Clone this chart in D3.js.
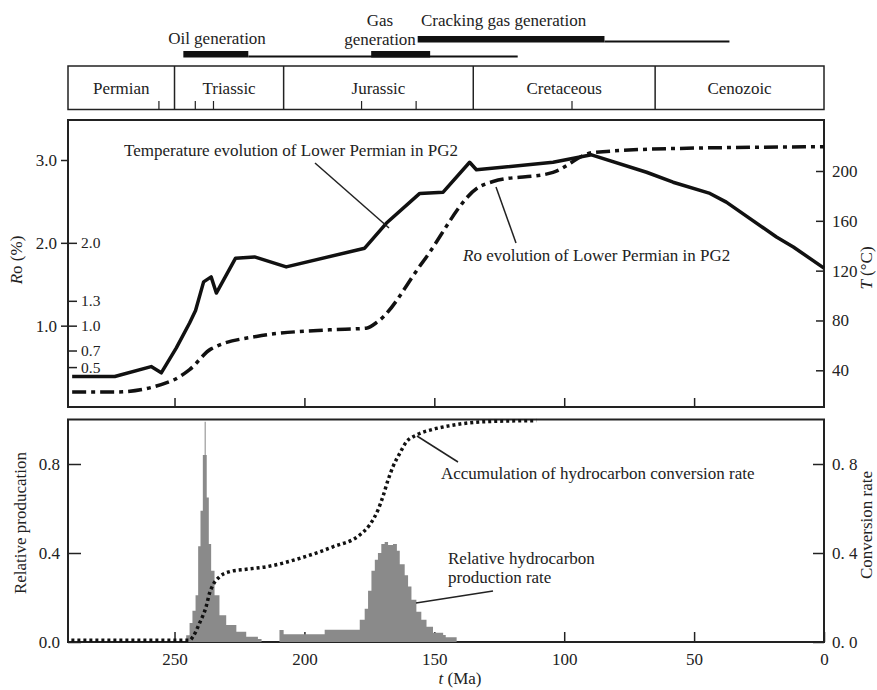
<!DOCTYPE html>
<html>
<head>
<meta charset="utf-8">
<script src="https://cdn.jsdelivr.net/npm/d3@7"></script>
<style>
  body { margin: 0; background: #fff; }
  text { font-family: "Liberation Serif", "Times New Roman", serif; fill: #222; }
</style>
</head>
<body>
<script>
// Geological periods (Ma).
const periodNames = ["Permian", "Triassic", "Jurassic", "Cretaceous", "Cenozoic"];
const periodBounds = [291, 250, 208, 135, 65, 0];
const stageTicks = [256, 242, 235, 178, 157, 97];

// Generation windows (Ma): thick bars and thin tails, row 0 = top row.
const genBarStart = [246.6, 174.3, 156.4];
const genBarEnd = [221.6, 151.6, 84.5];
const genBarRow = [1, 1, 0];
const genTailStart = [221.6, 84.5];
const genTailEnd = [117.9, 36.4];
const genTailRow = [1, 0];

// Temperature history of Lower Permian in PG2 (°C).
const tempAge = [289.4, 273.0, 259.0, 255.1, 249.3, 244.2, 241.9, 238.8, 235.9, 233.9, 226.5, 219.2, 207.0, 176.8, 168.5, 155.6, 146.6, 136.4, 133.8, 104.3, 89.5, 68.3, 58.1, 43.9, 37.6, 18.3, 11.8, 0];
const tempValue = [35, 35, 43, 38, 58, 78, 88, 111, 115, 102, 130, 131, 123, 138, 158, 182, 183, 207, 201, 207, 213, 199, 191, 182, 175, 147, 139, 122];

// Ro history of Lower Permian in PG2 (%).
const roAge = [289.4, 272.5, 250.7, 244.2, 235.9, 218.5, 190.3, 176.2, 171.7, 154.4, 132.5, 127.4, 104.3, 88.9, 55.5, 0];
const roValue = [0.2, 0.2, 0.34, 0.47, 0.72, 0.87, 0.95, 0.97, 1.05, 1.77, 2.68, 2.74, 2.85, 3.09, 3.14, 3.16];

// Relative hydrocarbon production rate (step histogram, value holds until next age).
const prodAge = [245.5, 244.2, 243.1, 241.9, 240.9, 240.0, 239.1, 238.4, 238.0, 237.6, 236.8, 235.9, 234.6, 232.7, 230.1, 226.2, 222.4, 217.9, 216.5, 209.6, 208.0, 192.2, 178.7, 176.8, 175.5, 174.2, 172.9, 171.7, 170.4, 169.1, 167.8, 165.9, 164.4, 163.3, 161.4, 160.1, 158.8, 156.9, 155.0, 153.0, 150.5, 146.6, 145.6, 141.4];
const prodValue = [0.03, 0.085, 0.14, 0.21, 0.43, 0.59, 0.84, 0.99, 0.84, 0.65, 0.44, 0.32, 0.21, 0.12, 0.076, 0.046, 0.024, 0.013, 0, 0.054, 0.035, 0.055, 0.1, 0.15, 0.23, 0.32, 0.37, 0.40, 0.44, 0.45, 0.436, 0.44, 0.41, 0.35, 0.30, 0.25, 0.19, 0.136, 0.10, 0.069, 0.042, 0.031, 0.021, 0];

// Accumulated hydrocarbon conversion rate.
const convAge = [289.7, 244.2, 242.9, 240.4, 237.8, 236.5, 235.2, 232.7, 228.8, 222.4, 214.7, 201.8, 189.0, 178.7, 174.9, 171.7, 169.8, 167.8, 165.9, 163.3, 160.7, 156.9, 150.5, 144.1, 131.2, 110.7];
const convValue = [0.008, 0.008, 0.024, 0.084, 0.16, 0.22, 0.256, 0.293, 0.316, 0.327, 0.338, 0.376, 0.428, 0.481, 0.526, 0.593, 0.653, 0.728, 0.788, 0.848, 0.9, 0.93, 0.956, 0.972, 0.99, 0.995];

// Tick labels.
const timeTicks = [250, 200, 150, 100, 50, 0];
const roOuterTicks = [1.0, 2.0, 3.0];
const roInnerTicks = [0.5, 0.7, 1.0, 1.3, 2.0];
const tempTicks = [40, 80, 120, 160, 200];
const prodTicks = [0, 0.4, 0.8];

(function () {
  const fs = 17;
  const svg = d3.select("body").append("svg").attr("width", 877).attr("height", 690);

  const left = 68, right = 824;
  const upTop = 120, upBottom = 407, loTop = 419.5, loBottom = 642;

  const x = d3.scaleLinear().domain([291, 0]).range([left, right]);
  const yRo = d3.scaleLinear().domain([0, 3]).range([408.5, 160]);
  const yT = d3.scaleLinear().domain([40, 200]).range([370.3, 171]);
  const yP = d3.scaleLinear().domain([0, 1]).range([loBottom, loTop]);

  const zip = (a, b) => a.map((v, i) => [v, b[i]]);

  // Generation bars on top.
  const rowY = [36, 51];
  svg.selectAll("rect.gen").data(genBarStart).enter().append("rect")
    .attr("x", (d) => x(d))
    .attr("y", (d, i) => rowY[genBarRow[i]])
    .attr("width", (d, i) => x(genBarEnd[i]) - x(d))
    .attr("height", 6.5)
    .attr("fill", "#111");
  svg.selectAll("rect.tail").data(genTailStart).enter().append("rect")
    .attr("x", (d) => x(d))
    .attr("y", (d, i) => rowY[genTailRow[i]] + 4.5)
    .attr("width", (d, i) => x(genTailEnd[i]) - x(d))
    .attr("height", 2)
    .attr("fill", "#111");

  const note = (tx, ty, str, anchor) =>
    svg.append("text").attr("x", tx).attr("y", ty).attr("dy", "0.35em")
      .attr("text-anchor", anchor || "start").attr("font-size", fs).text(str);
  note(217, 38, "Oil generation", "middle");
  note(380, 20, "Gas", "middle");
  note(380, 39, "generation", "middle");
  note(421, 20, "Cracking gas generation");

  // Period box.
  svg.append("rect").attr("x", left).attr("y", 66).attr("width", right - left).attr("height", 43.5)
    .attr("fill", "none").attr("stroke", "#222").attr("stroke-width", 1.5);
  svg.selectAll("line.period").data(periodBounds.slice(1, -1)).enter().append("line")
    .attr("x1", (d) => x(d)).attr("x2", (d) => x(d)).attr("y1", 66).attr("y2", 109.5)
    .attr("stroke", "#222").attr("stroke-width", 1.5);
  svg.selectAll("line.stage").data(stageTicks).enter().append("line")
    .attr("x1", (d) => x(d)).attr("x2", (d) => x(d)).attr("y1", 101).attr("y2", 109.5)
    .attr("stroke", "#222").attr("stroke-width", 1.2);
  svg.selectAll("text.period").data(periodNames).enter().append("text")
    .attr("x", (d, i) => (x(periodBounds[i]) + x(periodBounds[i + 1])) / 2)
    .attr("y", 88).attr("dy", "0.35em").attr("text-anchor", "middle")
    .attr("font-size", fs).text((d) => d);

  // Frames.
  [[upTop, upBottom], [loTop, loBottom]].forEach(([t, b]) => {
    svg.append("rect").attr("x", left).attr("y", t).attr("width", right - left).attr("height", b - t)
      .attr("fill", "none").attr("stroke", "#222").attr("stroke-width", 2);
  });

  // Axis styling helper.
  function style(g, size) {
    g.select(".domain").remove();
    g.selectAll(".tick line").attr("stroke", "#222").attr("stroke-width", 1.5);
    g.selectAll(".tick text").attr("font-size", size || fs).attr("fill", "#222")
      .style("font-family", '"Liberation Serif", serif');
  }

  // Upper panel axes.
  svg.append("g").attr("transform", `translate(0,${upBottom})`)
    .call(d3.axisBottom(x).tickValues(timeTicks.slice(0, -1)).tickSize(-9).tickFormat(""))
    .call(style);
  svg.append("g").attr("transform", `translate(${left},0)`)
    .call(d3.axisLeft(yRo).tickValues(roOuterTicks).tickSize(7).tickPadding(4).tickFormat(d3.format(".1f")))
    .call(style);
  svg.append("g").attr("transform", `translate(${left},0)`)
    .call(d3.axisRight(yRo).tickValues(roInnerTicks).tickSize(9).tickPadding(4).tickFormat(d3.format(".1f")))
    .call(style, 15.5);
  svg.append("g").attr("transform", `translate(${right},0)`)
    .call(d3.axisRight(yT).tickValues(tempTicks).tickSize(-8).tickPadding(8))
    .call(style);

  // Lower panel axes.
  svg.append("g").attr("transform", `translate(0,${loBottom})`)
    .call(d3.axisBottom(x).tickValues(timeTicks).tickSize(-10).tickPadding(11))
    .call(style);
  svg.append("g").attr("transform", `translate(${left},0)`)
    .call(d3.axisLeft(yP).tickValues(prodTicks).tickSize(-13).tickPadding(8).tickFormat(d3.format(".1f")))
    .call(style);
  svg.append("g").attr("transform", `translate(${right},0)`)
    .call(d3.axisRight(yP).tickValues(prodTicks).tickSize(-11).tickPadding(8).tickFormat((d) => d3.format(".1f")(d).replace(".", ". ")))
    .call(style);

  // Axis titles.
  const roLabel = svg.append("text").attr("transform", "translate(22,260) rotate(-90)")
    .attr("text-anchor", "middle").attr("font-size", fs);
  roLabel.append("tspan").attr("font-style", "italic").text("R");
  roLabel.append("tspan").text("o (%)");
  const tLabel = svg.append("text").attr("transform", "translate(872,268) rotate(-90)")
    .attr("text-anchor", "middle").attr("font-size", fs);
  tLabel.append("tspan").attr("font-style", "italic").text("T");
  tLabel.append("tspan").text(" (°C)");
  svg.append("text").attr("transform", "translate(26,523) rotate(-90)")
    .attr("text-anchor", "middle").attr("font-size", fs).text("Relative producation");
  svg.append("text").attr("transform", "translate(872,525) rotate(-90)")
    .attr("text-anchor", "middle").attr("font-size", fs).text("Conversion rate");
  const tAxis = svg.append("text").attr("x", 460).attr("y", 678).attr("dy", "0.35em")
    .attr("text-anchor", "middle").attr("font-size", fs);
  tAxis.append("tspan").attr("font-style", "italic").text("t");
  tAxis.append("tspan").text(" (Ma)");

  // Histogram of relative production.
  const area = d3.area().curve(d3.curveStepAfter)
    .x((d) => x(d[0])).y0(yP(0)).y1((d) => yP(d[1]));
  svg.append("path").datum(zip(prodAge, prodValue))
    .attr("d", area).attr("fill", "#8a8a8a");

  // Curves.
  svg.append("path").datum(zip(tempAge, tempValue))
    .attr("d", d3.line().x((d) => x(d[0])).y((d) => yT(d[1])))
    .attr("fill", "none").attr("stroke", "#111").attr("stroke-width", 3.5)
    .attr("stroke-linejoin", "round");
  svg.append("path").datum(zip(roAge, roValue))
    .attr("d", d3.line().curve(d3.curveMonotoneX).x((d) => x(d[0])).y((d) => yRo(d[1])))
    .attr("fill", "none").attr("stroke", "#111").attr("stroke-width", 3.5)
    .attr("stroke-dasharray", "14,5,4,5");
  svg.append("path").datum(zip(convAge, convValue))
    .attr("d", d3.line().curve(d3.curveMonotoneX).x((d) => x(d[0])).y((d) => yP(d[1])))
    .attr("fill", "none").attr("stroke", "#111").attr("stroke-width", 3.5)
    .attr("stroke-dasharray", "3,3");

  // Annotations with leader lines.
  const leader = (x1, y1, x2, y2) => svg.append("line")
    .attr("x1", x1).attr("y1", y1).attr("x2", x2).attr("y2", y2)
    .attr("stroke", "#222").attr("stroke-width", 1.5);
  note(124, 150, "Temperature evolution of Lower Permian in PG2");
  leader(315, 163, 389, 228);
  const roNote = svg.append("text").attr("x", 463).attr("y", 255).attr("dy", "0.35em").attr("font-size", fs);
  roNote.append("tspan").attr("font-style", "italic").text("R");
  roNote.append("tspan").text("o evolution of Lower Permian in PG2");
  leader(496, 187, 516, 243);
  note(441, 473, "Accumulation of hydrocarbon conversion rate");
  leader(417, 436, 458, 462);
  note(448, 558, "Relative hydrocarbon");
  note(448, 577, "production rate");
  leader(416, 603, 493, 591);
})();
</script>
</body>
</html>
